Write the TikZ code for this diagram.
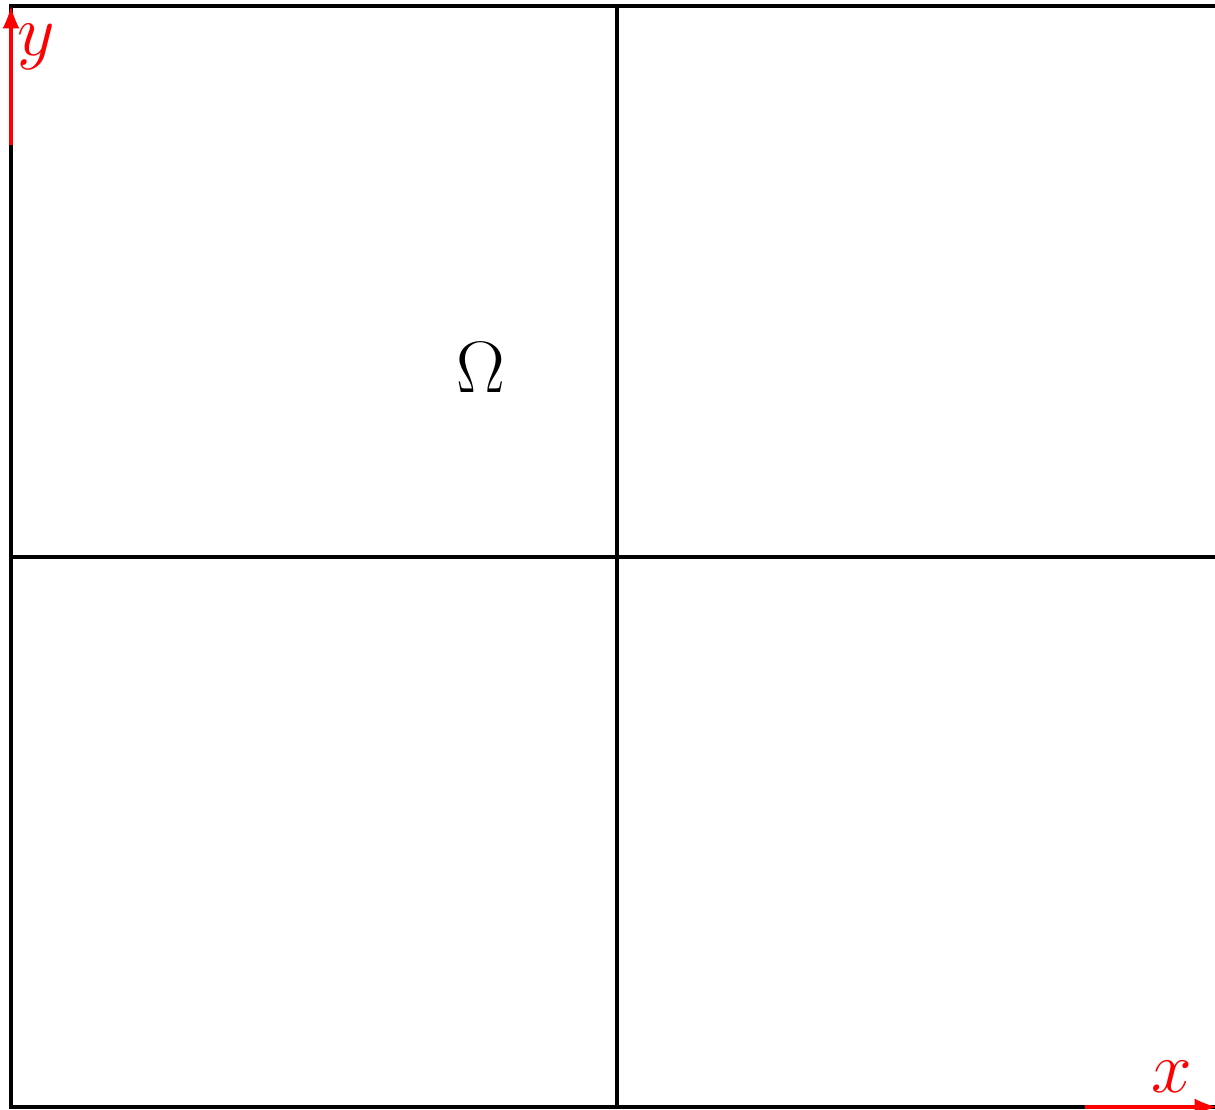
\documentclass[tikz,border=0pt]{standalone}
\usetikzlibrary{positioning}
\begin{document}
\begin{tikzpicture}[x=0.01cm,y=0.01cm,
  gridline/.style={black,line width=0.87pt},
  axisline/.style={red,line width=1.2pt,-latex},
  axislabel/.style={red,font=\huge}]
\useasboundingbox (-11,-3) rectangle (1204,1107);
%%% domain split in four cells
\coordinate (sw) at (0,0);
\coordinate (ne) at (1212,1101);
\coordinate (mid) at (606,550);
\draw[gridline] (sw) rectangle (ne);
\draw[gridline] (mid |- sw) -- (mid |- ne);
\draw[gridline] (mid -| sw) -- (mid -| ne);
\node[font=\huge] (omega) at (470,739) {$\Omega$};
%%% axes
\coordinate (ybase) at (0,962);
\coordinate (ytip) at (0,1101);
\coordinate (xbase) at (1074,0);
\coordinate (xtip) at (1206,0);
\draw[axisline] (ybase) -- (ytip);
\draw[axisline] (xbase) -- (xtip);
\node[axislabel] (ylab) at (25,1060) {$y$};
\node[axislabel] (xlab) at (1161,30) {$x$};
\end{tikzpicture}
\end{document}
